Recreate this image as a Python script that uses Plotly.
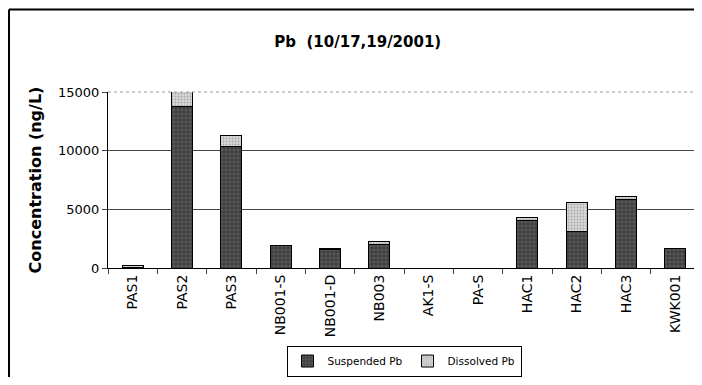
import plotly.graph_objects as go

sites = ["PAS1", "PAS2", "PAS3", "NB001-S", "NB001-D", "NB003", "AK1-S", "PA-S",
         "HAC1", "HAC2", "HAC3", "KWK001"]
suspended = [30, 13800, 10350, 1900, 1600, 2000, 0, 0, 4050, 3150, 5800, 1650]
dissolved = [170, 1250, 950, 50, 100, 250, 0, 0, 250, 2400, 330, 50]
yticks = [0, 5000, 10000, 15000]
yticklabels = ["0", "5000", "10000", "15000"]

FONT = "DejaVu Sans"

fig = go.Figure()
fig.add_trace(go.Bar(
    x=sites, y=suspended, name="Suspended Pb",
    marker=dict(color="#3c3c3c", line=dict(color="black", width=1),
                pattern=dict(shape="+", fgcolor="#9a9a9a", size=4, solidity=0.3)),
))
fig.add_trace(go.Bar(
    x=sites, y=dissolved, name="Dissolved Pb",
    marker=dict(color="#d8d8d8", line=dict(color="black", width=1),
                pattern=dict(shape=".", fgcolor="#777777", size=3, solidity=0.3)),
))

fig.update_layout(
    width=694, height=369,
    barmode="stack", bargap=0.57,
    paper_bgcolor="white", plot_bgcolor="white",
    margin=dict(l=100, r=2, t=84, b=108),
    font=dict(family=FONT, color="black"),
    title=dict(text="<b>Pb  (10/17,19/2001)</b>", x=0.504, xref="container", xanchor="center",
               y=1 - 34 / 369, yref="container", yanchor="middle", font=dict(size=15)),
    showlegend=True,
    legend=dict(orientation="h", x=0.5, xanchor="center", y=-0.52, yanchor="middle",
                bordercolor="black", borderwidth=1, font=dict(size=10.5),
                traceorder="normal", itemwidth=30),
    xaxis=dict(tickangle=-90, tickfont=dict(size=14), ticks="outside", ticklen=5,
               tickson="boundaries", showline=True, linecolor="black", linewidth=1,
               showgrid=False),
    yaxis=dict(range=[0, 15000], tickvals=yticks, ticktext=yticklabels,
               tickfont=dict(size=13),
               ticks="outside", ticklen=5, showline=True, linecolor="black",
               gridcolor="#444444", gridwidth=1, zeroline=False,
               title=dict(text="<b>Concentration (ng/L)</b>", font=dict(size=16), standoff=12)),
    shapes=[
        dict(type="line", xref="paper", yref="paper", x0=0, x1=1, y0=1, y1=1,
             line=dict(color="#999999", width=1, dash="dot")),
        dict(type="line", xref="paper", yref="paper", x0=1, x1=1, y0=0, y1=1,
             line=dict(color="#999999", width=1, dash="dot")),
        dict(type="line", xref="paper", yref="paper", x0=-0.1672, x1=1.01, y0=1.469, y1=1.469,
             line=dict(color="black", width=2)),
        dict(type="line", xref="paper", yref="paper", x0=-0.1672, x1=-0.1672, y0=-0.7, y1=1.469,
             line=dict(color="black", width=2)),
    ],
)
fig.write_html("out.html")
